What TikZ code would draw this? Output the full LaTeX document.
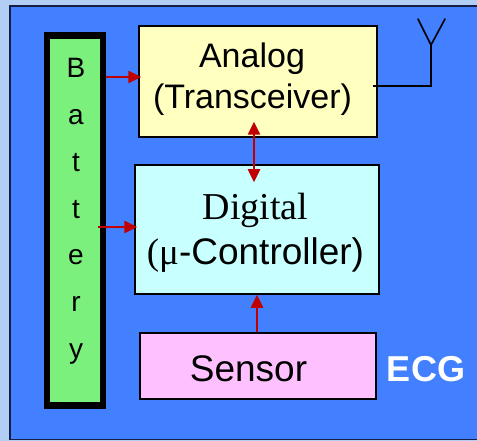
\documentclass[tikz,border=0pt]{standalone}
\usepackage{fontspec}
\setmainfont{Liberation Sans}
\newfontfamily\serifA{Liberation Serif}
\usetikzlibrary{arrows.meta,calc}
\definecolor{bgblue}{RGB}{178,206,244}
\definecolor{mainblue}{RGB}{66,128,255}
\definecolor{framenavy}{RGB}{20,30,70}
\definecolor{battgreen}{RGB}{124,240,124}
\definecolor{analogyellow}{RGB}{255,255,192}
\definecolor{digitalcyan}{RGB}{200,255,255}
\definecolor{sensorpink}{RGB}{255,192,255}
\definecolor{arrowred}{RGB}{192,0,0}
\begin{document}
\begin{tikzpicture}[x=1pt,y=-1pt,
  blockbox/.style={draw=black, line width=1.5pt, inner sep=0pt, rectangle},
  rarrow/.style={draw=arrowred, line width=2.5pt, -{Triangle[length=13pt,width=12pt]}},
  rdarrow/.style={draw=arrowred, line width=2.5pt, {Triangle[length=13pt,width=12pt]}-{Triangle[length=13pt,width=12pt]}},
  antline/.style={draw=black, line width=1.6pt},
  labtxt/.style={inner sep=0pt, anchor=base},
  battletter/.style={inner sep=0pt, anchor=base, font=\fontsize{28}{32}\selectfont},
]
\useasboundingbox (0,0) rectangle (477,441);
\fill[bgblue] (0,0) rectangle (477,441);
\draw[draw=framenavy, fill=mainblue, line width=1.5pt] (10,6) rectangle (495,439.5);

% battery
\node[draw=black, line width=6.5pt, fill=battgreen, inner sep=0pt, minimum width=56pt, minimum height=370pt] (battery) at (75,220.5) {};
\foreach \l [count=\i from 0] in {B,a,t,t,e,r,y} {
  \node[battletter] (bl\i) at (76,78+\i*46.7) {\l};
}

% blocks
\node[blockbox, fill=analogyellow, minimum width=238pt, minimum height=111pt] (analog) at (258,81.5) {};
\node[blockbox, fill=digitalcyan, minimum width=244pt, minimum height=129pt] (digital) at (257,229.5) {};
\node[blockbox, fill=sensorpink, minimum width=236pt, minimum height=66pt] (sensor) at (258,366) {};

% texts
\node[labtxt, font=\fontsize{34}{40}\selectfont] (analogA) at (252,68) {Analog};
\node[labtxt, font=\fontsize{34}{40}\selectfont] (analogB) at (252.5,109) {(Transceiver)};
\node[labtxt, font=\serifA\fontsize{38}{44}\selectfont] (digitalA) at (255.5,220) {Digital};
\node[labtxt, font=\fontsize{37}{44}\selectfont] (digitalB) at (255.5,264) {{\serifA(μ}-Controller)};
\node[labtxt, font=\fontsize{37}{44}\selectfont] (sensortxt) at (248.5,381) {Sensor};
\node[labtxt, font=\bfseries\fontsize{36}{44}\selectfont, text=white] (ecg) at (426,381) {ECG};

% arrows
\coordinate (ya) at (0,77);
\coordinate (yb) at (0,227);
\draw[rarrow] (battery.east |- ya) -- ($(analog.west |- ya)+(3,0)$);
\draw[rarrow] ($(battery.east |- yb)+(-8,0)$) -- ($(digital.west |- yb)+(3,0)$);
\draw[rdarrow] ($(analog.south)+(-4,-16)$) -- ($(digital.north)+(-3,18)$);
\draw[rarrow] ($(sensor.north)+(-1,0)$) -- ($(digital.south)+(0,0)$);

% antenna
\coordinate (yc) at (0,86);
\coordinate (antbase) at (431,45);
\coordinate (antL) at (418,19);
\coordinate (antR) at (445,19);
\draw[antline] ($(analog.east |- yc)+(-5,0)$) -| (antbase);
\draw[antline, line cap=round] (antL) -- (antbase) -- (antR);
\end{tikzpicture}
\end{document}
